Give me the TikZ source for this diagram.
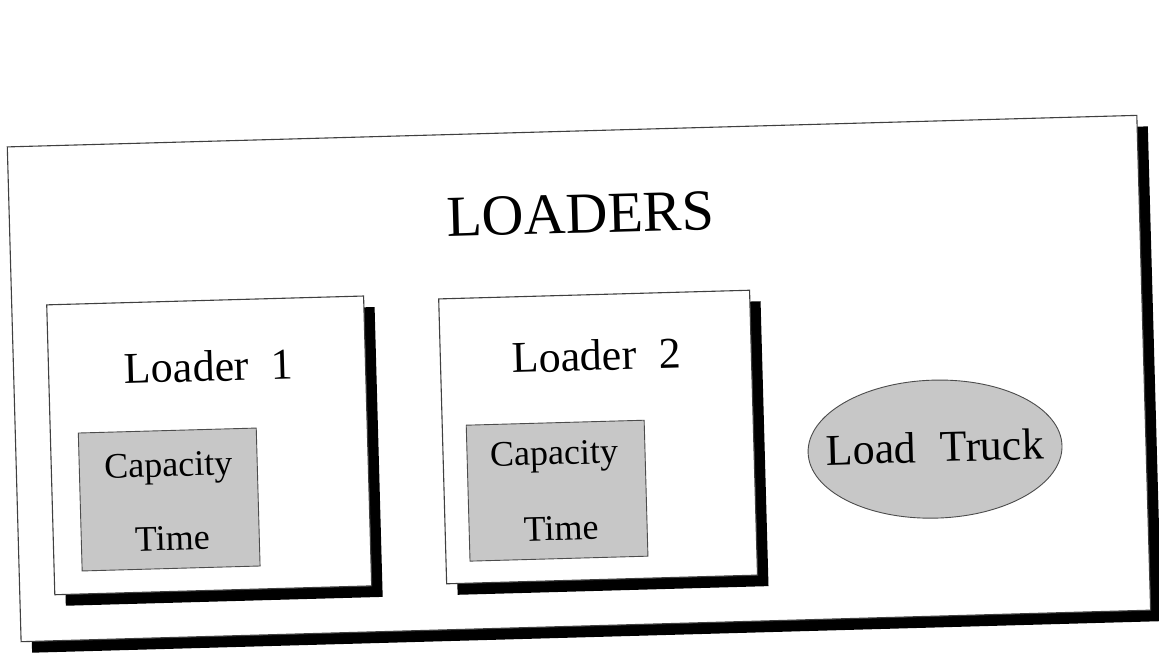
\documentclass[tikz,border=0pt]{standalone}
\usepackage{fontspec}
\setmainfont{Liberation Serif}
\usetikzlibrary{shapes.geometric,shadows}
\begin{document}
\begin{tikzpicture}[x=1pt,y=-1pt,
  panel/.style={draw=black!75, line width=1.1pt, fill=white, inner sep=0pt,
    drop shadow={shadow xshift=11pt, shadow yshift=-11pt, opacity=1, fill=black}},
  attrbox/.style={draw=black!70, line width=0.9pt, fill=black!22, inner sep=0pt},
  oval/.style={ellipse, draw=black!70, line width=0.9pt, fill=black!22, inner sep=0pt},
  label/.style={anchor=base, inner sep=0pt, text=black},
  big/.style={label, font=\fontsize{58}{60}\selectfont},
  mid/.style={label, font=\fontsize{44}{46}\selectfont},
  small/.style={label, font=\fontsize{36}{38}\selectfont}
]
\useasboundingbox (0,0) rectangle (1159,656);
\fill[white] (0,0) rectangle (1159,656);
\begin{scope}[rotate around={1.6:(580,380)}, transform shape]
  \node[panel, minimum width=1130pt, minimum height=495pt] (frame) at (579,378.5) {};
  \node[big] (title) at (585,233) {LOADERS};

  \node[panel, minimum width=317pt, minimum height=290pt] (l1) at (207.5,435) {};
  \node[mid] (l1name) at (209,371) {Loader\ \ 1};
  \node[attrbox, minimum width=178pt, minimum height=138pt] (c1) at (166,488) {};
  \node[small] (c1cap) at (166,465) {Capacity};
  \node[small] (c1time) at (168,539) {Time};

  \node[panel, minimum width=311pt, minimum height=285pt] (l2) at (596.5,437.5) {};
  \node[mid] (l2name) at (597,371) {Loader\ \ 2};
  \node[attrbox, minimum width=178pt, minimum height=136pt] (c2) at (554,490) {};
  \node[small] (c2cap) at (552,464) {Capacity};
  \node[small] (c2time) at (557,539.5) {Time};

  \node[oval, minimum width=254pt, minimum height=138pt] (truck) at (933,459) {};
  \node[mid] (trucktext) at (933,472) {Load\hspace{0.55em}Truck};
\end{scope}
\end{tikzpicture}
\end{document}
